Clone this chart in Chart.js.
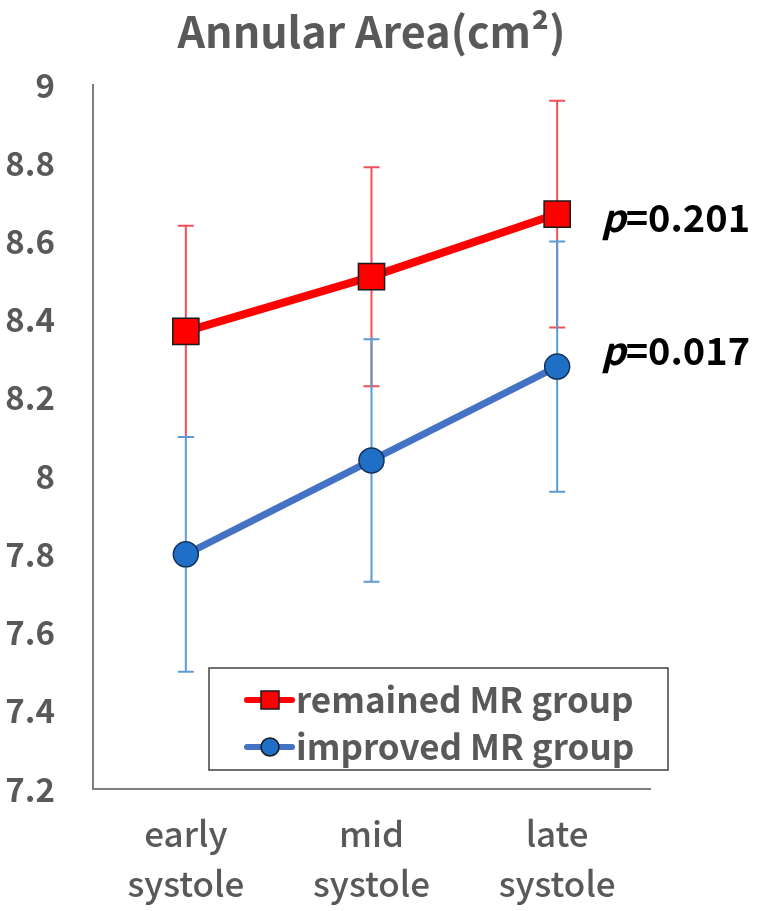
<!DOCTYPE html>
<html>
<head>
<meta charset="utf-8">
<script src="https://cdn.jsdelivr.net/npm/chart.js@4"></script>
<style>
  html, body { margin: 0; padding: 0; background: #ffffff; }
  #chart { display: block; }
</style>
</head>
<body>
<canvas id="chart" width="763" height="911"></canvas>
<script>
const categories = [['early', 'systole'], ['mid', 'systole'], ['late', 'systole']];
const remainedValues = [8.37, 8.51, 8.67];
const remainedErrors = [0.27, 0.28, 0.29];
const improvedValues = [7.80, 8.04, 8.28];
const improvedErrors = [0.30, 0.31, 0.32];
const seriesNames = ['remained MR group', 'improved MR group'];
const pLabels = ['0.201', '0.017'];
const pLabelValues = [8.66, 8.32];

const FONT = '"Noto Sans CJK JP", "Noto Sans", sans-serif';
const GRAY = '#595959';
const RED = '#ff0000';
const BLUE = '#4472c4';

// error bars, drawn under the lines
const errorBars = {
    id: 'errorBars',
    beforeDatasetsDraw(chart) {
        const ctx = chart.ctx;
        const x = chart.scales.x;
        const y = chart.scales.y;
        const sets = [
            { vals: remainedValues, errs: remainedErrors, color: '#f0505a' },
            { vals: improvedValues, errs: improvedErrors, color: '#5b9bd5' }
        ];
        ctx.save();
        sets.forEach(s => {
            ctx.strokeStyle = s.color;
            ctx.lineWidth = 2;
            s.vals.forEach((v, i) => {
                const px = x.getPixelForValue(i);
                const top = y.getPixelForValue(v + s.errs[i]);
                const bot = y.getPixelForValue(v - s.errs[i]);
                ctx.beginPath();
                ctx.moveTo(px, top);
                ctx.lineTo(px, bot);
                ctx.moveTo(px - 8, top);
                ctx.lineTo(px + 8, top);
                ctx.moveTo(px - 8, bot);
                ctx.lineTo(px + 8, bot);
                ctx.stroke();
            });
        });
        ctx.restore();
    }
};

// title, p values and boxed legend
const extras = {
    id: 'extras',
    afterDraw(chart) {
        const ctx = chart.ctx;
        const area = chart.chartArea;
        const x = chart.scales.x;
        const y = chart.scales.y;
        ctx.save();

        ctx.fillStyle = GRAY;
        ctx.font = 'bold 43px ' + FONT;
        ctx.textAlign = 'center';
        ctx.textBaseline = 'middle';
        ctx.fillText('Annular Area(cm²)', (area.left + area.right) / 2, 32);

        ctx.fillStyle = '#000000';
        ctx.textAlign = 'left';
        pLabels.forEach((t, i) => {
            const py = y.getPixelForValue(pLabelValues[i]);
            const px = x.getPixelForValue(2) + 44;
            ctx.font = 'italic bold 38px ' + FONT;
            ctx.fillText('p', px, py);
            const w = ctx.measureText('p').width;
            ctx.font = 'bold 38px ' + FONT;
            ctx.fillText('=' + t, px + w, py);
        });

        const bx = 209, by = 668, bw = 459, bh = 102;
        ctx.strokeStyle = '#404040';
        ctx.lineWidth = 1.5;
        ctx.strokeRect(bx, by, bw, bh);
        const rows = [
            { color: RED, style: 'rect', y: 700 },
            { color: BLUE, style: 'circle', y: 747 }
        ];
        rows.forEach((r, i) => {
            ctx.strokeStyle = r.color;
            ctx.lineWidth = 6;
            ctx.lineCap = 'round';
            ctx.beginPath();
            ctx.moveTo(247, r.y);
            ctx.lineTo(292, r.y);
            ctx.stroke();
            ctx.lineWidth = 1.5;
            ctx.strokeStyle = '#1a1a1a';
            if (r.style === 'rect') {
                ctx.fillStyle = RED;
                ctx.fillRect(261, r.y - 9, 18, 18);
                ctx.strokeRect(261, r.y - 9, 18, 18);
            } else {
                ctx.fillStyle = '#1f6fc6';
                ctx.beginPath();
                ctx.arc(270, r.y, 9, 0, Math.PI * 2);
                ctx.fill();
                ctx.stroke();
            }
            ctx.fillStyle = GRAY;
            ctx.font = 'bold 35px ' + FONT;
            ctx.textAlign = 'left';
            ctx.textBaseline = 'middle';
            ctx.fillText(seriesNames[i], 296, r.y);
        });
        ctx.restore();
    }
};

new Chart(document.getElementById('chart'), {
    type: 'line',
    data: {
        labels: categories,
        datasets: [{
            label: seriesNames[0],
            data: remainedValues,
            borderColor: RED,
            borderWidth: 8,
            pointStyle: 'rect',
            pointRadius: 18.5,
            pointBackgroundColor: RED,
            pointBorderColor: '#1a1a1a',
            pointBorderWidth: 1.5,
            tension: 0
        }, {
            label: seriesNames[1],
            data: improvedValues,
            borderColor: BLUE,
            borderWidth: 7,
            pointStyle: 'circle',
            pointRadius: 12.5,
            pointBackgroundColor: '#1f6fc6',
            pointBorderColor: '#16305a',
            pointBorderWidth: 1.5,
            tension: 0
        }]
    },
    options: {
        responsive: false,
        animation: false,
        layout: { padding: { top: 85, right: 113, left: 0, bottom: 0 } },
        plugins: {
            legend: { display: false },
            title: { display: false },
            tooltip: { enabled: false }
        },
        scales: {
            x: {
                offset: true,
                grid: { display: false },
                border: { display: true, color: '#7f7f7f', width: 2 },
                ticks: {
                    color: GRAY,
                    font: { family: FONT, size: 35, weight: '500', lineHeight: 1.45 },
                    padding: 11,
                    maxRotation: 0
                },
                afterFit(scale) { scale.height = 122; }
            },
            y: {
                min: 7.2,
                max: 9,
                grid: { display: false },
                border: { display: true, color: '#7f7f7f', width: 2 },
                ticks: {
                    stepSize: 0.2,
                    color: GRAY,
                    font: { family: FONT, size: 33, weight: 'bold' },
                    padding: 30,
                    callback: function (value) {
                        return String(Number(value.toFixed(1)));
                    }
                },
                afterFit(scale) { scale.width = 93; }
            }
        }
    },
    plugins: [errorBars, extras]
});
</script>
</body>
</html>
